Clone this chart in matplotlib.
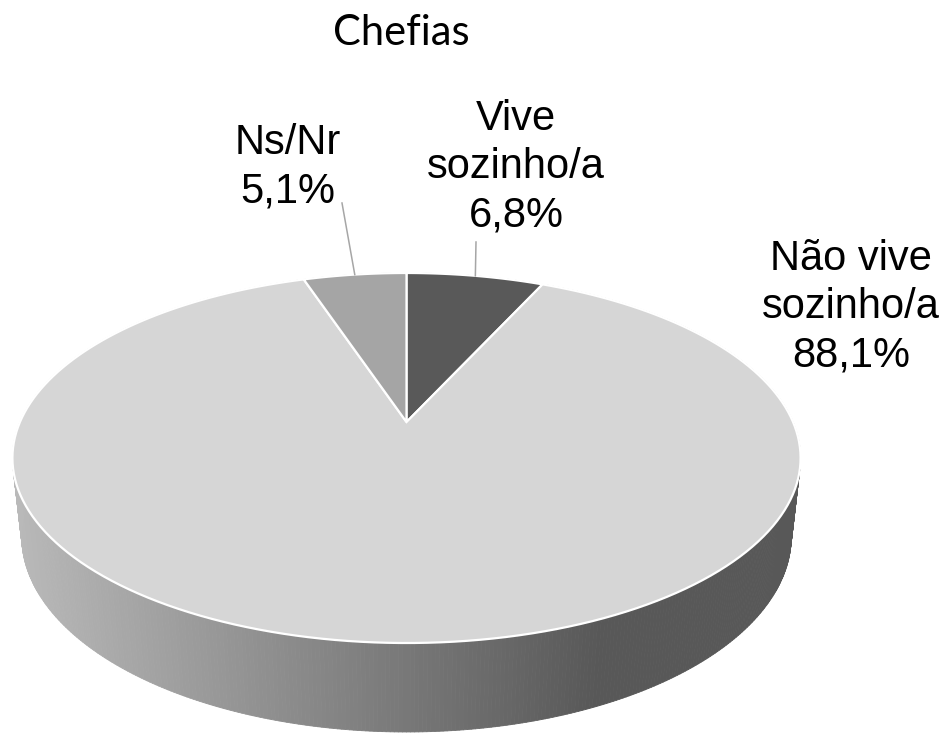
import numpy as np
import matplotlib.pyplot as plt
from matplotlib.collections import PolyCollection
from matplotlib.patches import Polygon

# data
title = 'Chefias'
categories = ['Vive\nsozinho/a', 'Não vive\nsozinho/a', 'Ns/Nr']
values = [6.8, 88.1, 5.1]
pct_labels = ['6,8%', '88,1%', '5,1%']
top_colors = ['#595959', '#d6d6d6', '#a5a5a5']

# label placement (pixel coords: centre x, baseline of last line, leader end)
label_pos = [(516, 227), (851, 367), (288, 202)]
leader_end = [(476, 242), None, (342, 203)]
line_step = 48.5

# 3d pie camera (fitted to the original chart)
cx, cy = 406.5, 422.0
sin_phi = 0.4605
cos_phi = np.sqrt(1 - sin_phi ** 2)
cam_dist = 4.561
focal = 1763.0
thick = 0.2298


def project(theta, r=1.0, z=0.0):
    # theta in degrees, clockwise from 12 o'clock
    t = np.radians(theta)
    u = r * np.sin(t)
    v = r * np.cos(t)
    depth = cam_dist + v * cos_phi - z * sin_phi
    x = cx + focal * u / depth
    y = cy - focal * (v * sin_phi + z * cos_phi) / depth
    return x, y


def side_grey(x):
    g = np.interp(x, [13, 600], [0.725, 0.345])
    return (g, g, g)


fig = plt.figure(figsize=(9.46, 7.33), dpi=100)
ax = fig.add_axes([0, 0, 1, 1])
ax.set_xlim(0, 946)
ax.set_ylim(733, 0)
ax.axis('off')

# side wall
angles = np.linspace(0, 360, 721)
quads, cols = [], []
for a0, a1 in zip(angles[:-1], angles[1:]):
    p0 = project(a0)
    p1 = project(a1)
    q1 = project(a1, z=-thick)
    q0 = project(a0, z=-thick)
    quads.append([p0, p1, q1, q0])
    cols.append(side_grey((p0[0] + p1[0]) / 2))
ax.add_collection(PolyCollection(quads, facecolors=cols, edgecolors=cols,
                                 linewidths=0.6, zorder=1))

# top face
bounds = np.concatenate([[0], np.cumsum(values)]) / sum(values) * 360
centre = project(0, r=0)
for i in range(len(values)):
    arc = np.linspace(bounds[i], bounds[i + 1], 200)
    pts = [centre] + [project(a) for a in arc]
    ax.add_patch(Polygon(pts, closed=True, facecolor=top_colors[i],
                         edgecolor='white', linewidth=1.6, zorder=2))

# labels and leader lines
for i in range(len(values)):
    lines = categories[i].split('\n') + [pct_labels[i]]
    x0, yb = label_pos[i]
    for j, line in enumerate(reversed(lines)):
        ax.text(x0, yb - j * line_step, line, ha='center', va='baseline',
                fontsize=30, family='Liberation Sans', color='black', zorder=4)
    if leader_end[i] is not None:
        mid = (bounds[i] + bounds[i + 1]) / 2
        sx, sy = project(mid)
        ex, ey = leader_end[i]
        ax.plot([sx, ex], [sy, ey], color='#a6a6a6', lw=1.1, zorder=3)

ax.text(401, 45, title, ha='center', va='baseline', fontsize=30,
        family='Lato', color='black')

fig.savefig('out.png', dpi=100)
plt.close(fig)
